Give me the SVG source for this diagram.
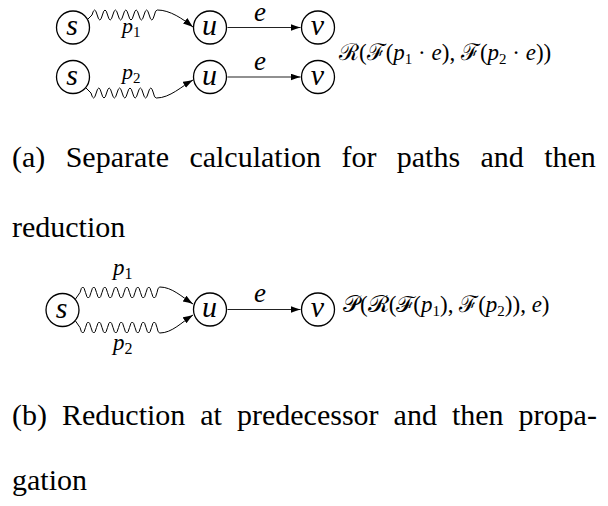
<svg xmlns="http://www.w3.org/2000/svg" width="608" height="506" viewBox="0 0 608 506">
<defs>
<marker id="ah" markerUnits="userSpaceOnUse" markerWidth="11" markerHeight="8" refX="10" refY="3.5" orient="auto">
<path d="M0,0 Q5,2 10,3.5 Q5,5 0,7 Z" fill="#000" stroke="none"/>
</marker>
</defs>
<rect width="608" height="506" fill="#fff"/>
<g id="connectors" fill="none" stroke="#000" stroke-width="1" marker-end="url(#ah)">
<path d="M88,19 L92,15 q2.6,-10 5.2,0 t5.2,0 t5.2,0 t5.2,0 t5.2,0 t5.2,0 t5.2,0 t5.2,0 t5.2,0 t5.2,0 t5.2,0 t5.2,0 Q155.2,10 157.4,10 C170,10 183,19 193,27"/>
<path d="M86,88 L91,93 q2.6,10 5.2,0 t5.2,0 t5.2,0 t5.2,0 t5.2,0 t5.2,0 t5.2,0 t5.2,0 t5.2,0 t5.2,0 t5.2,0 t5.2,0 Q154.2,98 156.4,98 C170,98 182,86 193,80"/>
<path d="M227.5,27.5 L300.5,27.5" stroke="#222" stroke-width="1.1"/>
<path d="M227.5,77 L300.5,77" stroke="#222" stroke-width="1.1"/>
<path d="M75.5,299 L80,292.5 q2.75,-11 5.5,0 t5.5,0 t5.5,0 t5.5,0 t5.5,0 t5.5,0 t5.5,0 t5.5,0 t5.5,0 t5.5,0 t5.5,0 t5.5,0 t5.5,0 t5.5,0 Q157.8,287 159.8,287 C172,287 182,297 193,304"/>
<path d="M75.5,321 L80,327.5 q2.75,11 5.5,0 t5.5,0 t5.5,0 t5.5,0 t5.5,0 t5.5,0 t5.5,0 t5.5,0 t5.5,0 t5.5,0 t5.5,0 t5.5,0 t5.5,0 t5.5,0 Q157.8,333 159.8,333 C172,333 182,322 193,315"/>
<path d="M227.5,309.5 L300.5,309.5" stroke="#222" stroke-width="1.1"/>
</g>
<g id="edge-labels">
<text x="260" y="21" font-size="27" text-anchor="middle" style="font-family:'Liberation Serif',serif !important;font-style:italic !important">e</text>
<text x="260" y="70" font-size="27" text-anchor="middle" style="font-family:'Liberation Serif',serif !important;font-style:italic !important">e</text>
<text x="260" y="302" font-size="27" text-anchor="middle" style="font-family:'Liberation Serif',serif !important;font-style:italic !important">e</text>
<text x="122" y="33" font-size="22" style="font-family:'Liberation Serif',serif !important;font-style:italic !important">p<tspan font-size="15" dy="4" style="font-family:'Liberation Serif',serif !important;font-style:normal !important">1</tspan></text>
<text x="122" y="79" font-size="22" style="font-family:'Liberation Serif',serif !important;font-style:italic !important">p<tspan font-size="15" dy="4" style="font-family:'Liberation Serif',serif !important;font-style:normal !important">2</tspan></text>
<text x="113" y="275" font-size="23" style="font-family:'Liberation Serif',serif !important;font-style:italic !important">p<tspan font-size="16" dy="4" style="font-family:'Liberation Serif',serif !important;font-style:normal !important">1</tspan></text>
<text x="113" y="350" font-size="23" style="font-family:'Liberation Serif',serif !important;font-style:italic !important">p<tspan font-size="16" dy="4" style="font-family:'Liberation Serif',serif !important;font-style:normal !important">2</tspan></text>
</g>
<g id="node-s1"><circle cx="73" cy="27.5" r="16.5" fill="#fff" stroke="#000" stroke-width="1.3"/><text font-size="30" text-anchor="middle" x="72" y="35" style="font-family:'Liberation Serif',serif !important;font-style:italic !important">s</text></g>
<g id="node-u1"><circle cx="210" cy="27.5" r="16.5" fill="#fff" stroke="#000" stroke-width="1.3"/><text font-size="30" text-anchor="middle" x="209.5" y="35" style="font-family:'Liberation Serif',serif !important;font-style:italic !important">u</text></g>
<g id="node-v1"><circle cx="318" cy="27.5" r="16.5" fill="#fff" stroke="#000" stroke-width="1.3"/><text font-size="30" text-anchor="middle" x="317.5" y="35" style="font-family:'Liberation Serif',serif !important;font-style:italic !important">v</text></g>
<g id="node-s2"><circle cx="73" cy="77" r="16.5" fill="#fff" stroke="#000" stroke-width="1.3"/><text font-size="30" text-anchor="middle" x="72" y="84.5" style="font-family:'Liberation Serif',serif !important;font-style:italic !important">s</text></g>
<g id="node-u2"><circle cx="210" cy="77" r="16.5" fill="#fff" stroke="#000" stroke-width="1.3"/><text font-size="30" text-anchor="middle" x="209.5" y="84.5" style="font-family:'Liberation Serif',serif !important;font-style:italic !important">u</text></g>
<g id="node-v2"><circle cx="318" cy="77" r="16.5" fill="#fff" stroke="#000" stroke-width="1.3"/><text font-size="30" text-anchor="middle" x="317.5" y="84.5" style="font-family:'Liberation Serif',serif !important;font-style:italic !important">v</text></g>
<g id="node-s3"><circle cx="62.5" cy="310" r="16.5" fill="#fff" stroke="#000" stroke-width="1.3"/><text font-size="30" text-anchor="middle" x="61.5" y="317.5" style="font-family:'Liberation Serif',serif !important;font-style:italic !important">s</text></g>
<g id="node-u3"><circle cx="210" cy="309.5" r="16.5" fill="#fff" stroke="#000" stroke-width="1.3"/><text font-size="30" text-anchor="middle" x="209.5" y="317" style="font-family:'Liberation Serif',serif !important;font-style:italic !important">u</text></g>
<g id="node-v3"><circle cx="318" cy="309.5" r="16.5" fill="#fff" stroke="#000" stroke-width="1.3"/><text font-size="30" text-anchor="middle" x="317.5" y="317" style="font-family:'Liberation Serif',serif !important;font-style:italic !important">v</text></g>
<g id="formulas">
<text x="339" y="60" font-size="23" style="font-family:'Liberation Serif',serif !important">ℛ(ℱ(<tspan style="font-family:'Liberation Serif',serif !important;font-style:italic">p</tspan><tspan font-size="15" dy="4" style="font-family:'Liberation Serif',serif !important">1</tspan><tspan dy="-4" style="font-family:'Liberation Serif',serif !important"> · </tspan><tspan style="font-family:'Liberation Serif',serif !important;font-style:italic">e</tspan>), ℱ(<tspan style="font-family:'Liberation Serif',serif !important;font-style:italic">p</tspan><tspan font-size="15" dy="4" style="font-family:'Liberation Serif',serif !important">2</tspan><tspan dy="-4" style="font-family:'Liberation Serif',serif !important"> · </tspan><tspan style="font-family:'Liberation Serif',serif !important;font-style:italic">e</tspan>))</text>
<text x="343" y="312" font-size="23" style="font-family:'Liberation Serif',serif !important">𝒫(ℛ(ℱ(<tspan style="font-family:'Liberation Serif',serif !important;font-style:italic">p</tspan><tspan font-size="15" dy="4" style="font-family:'Liberation Serif',serif !important">1</tspan><tspan dy="-4" style="font-family:'Liberation Serif',serif !important">), ℱ(</tspan><tspan style="font-family:'Liberation Serif',serif !important;font-style:italic">p</tspan><tspan font-size="15" dy="4" style="font-family:'Liberation Serif',serif !important">2</tspan><tspan dy="-4" style="font-family:'Liberation Serif',serif !important">)), </tspan><tspan style="font-family:'Liberation Serif',serif !important;font-style:italic">e</tspan>)</text>
</g>
<g id="captions" font-size="30">
<text x="12" y="167" style="font-family:'Liberation Serif',serif !important">(a)<tspan x="65.7" style="font-family:'Liberation Serif',serif !important">Separate</tspan><tspan x="189.4" style="font-family:'Liberation Serif',serif !important">calculation</tspan><tspan x="341.4" style="font-family:'Liberation Serif',serif !important">for</tspan><tspan x="396.8" style="font-family:'Liberation Serif',serif !important">paths</tspan><tspan x="480.5" style="font-family:'Liberation Serif',serif !important">and</tspan><tspan x="544.2" style="font-family:'Liberation Serif',serif !important">then</tspan></text>
<text x="12" y="237" style="font-family:'Liberation Serif',serif !important">reduction</text>
<text x="12" y="425" style="font-family:'Liberation Serif',serif !important">(b)<tspan x="62" style="font-family:'Liberation Serif',serif !important">Reduction</tspan><tspan x="200.3" style="font-family:'Liberation Serif',serif !important">at</tspan><tspan x="237" style="font-family:'Liberation Serif',serif !important">predecessor</tspan><tspan x="393.6" style="font-family:'Liberation Serif',serif !important">and</tspan><tspan x="451.9" style="font-family:'Liberation Serif',serif !important">then</tspan><tspan x="518.6" style="font-family:'Liberation Serif',serif !important">propa-</tspan></text>
<text x="12" y="490" style="font-family:'Liberation Serif',serif !important">gation</text>
</g>
</svg>
